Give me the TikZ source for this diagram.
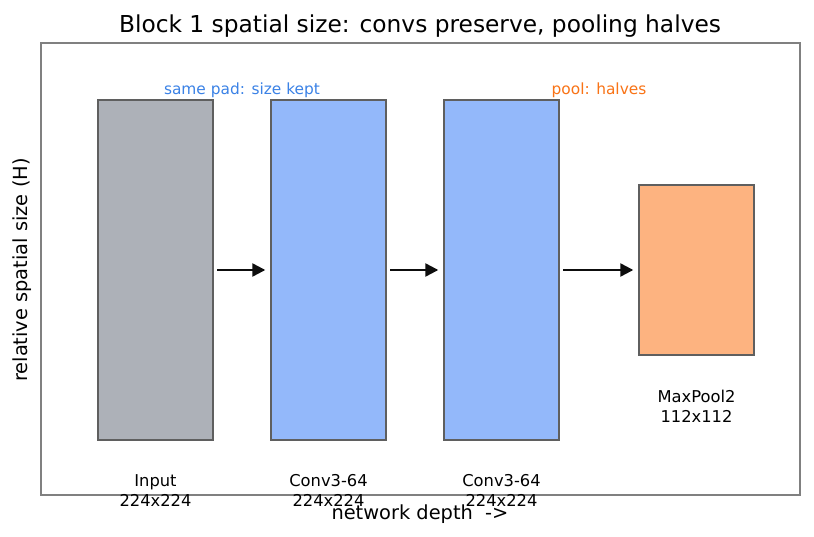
\documentclass[tikz,border=0pt]{standalone}
\usepackage{fontspec}
\setmainfont{DejaVu Sans}
\usetikzlibrary{arrows.meta}
\definecolor{boxedge}{HTML}{5F5F5F}
\definecolor{ingray}{HTML}{ADB1B8}
\definecolor{convblue}{HTML}{93B8FA}
\definecolor{poolorange}{HTML}{FDB380}
\definecolor{annblue}{HTML}{3B82E6}
\definecolor{annorange}{HTML}{F97316}
\definecolor{framegray}{HTML}{808080}
\tikzset{
  layerbox/.style={draw=boxedge, line width=2.4pt, minimum width=115pt, inner sep=0pt},
  flowarrow/.style={-{Triangle[length=13pt,width=13pt]}, line width=2.4pt, black!95, shorten <=3pt, shorten >=4.5pt},
  layerlabel/.style={align=center, font=\fontsize{16.3}{20}\selectfont, inner sep=0pt, text=black},
  annot/.style={font=\fontsize{15.4}{18}\selectfont, inner sep=0pt},
  axislabel/.style={font=\fontsize{19.4}{22}\selectfont, inner sep=0pt, text=black}
}
\begin{document}
\begin{tikzpicture}[x=1pt,y=-1pt]
\useasboundingbox (0,0) rectangle (814,537);
\fill[white] (0,0) rectangle (814,537);
\node[font=\fontsize{23.3}{26}\selectfont, inner sep=0pt, text=black] (title) at (420,26) {Block 1 spatial size: convs preserve, pooling halves};
\draw[framegray, line width=1.4pt] (41,43) rectangle (800,495);
\node[layerbox, fill=ingray, minimum height=340pt] (inp) at (155.5,270) {};
\node[layerbox, fill=convblue, minimum height=340pt] (c1) at (328.5,270) {};
\node[layerbox, fill=convblue, minimum height=340pt] (c2) at (501.5,270) {};
\node[layerbox, fill=poolorange, minimum height=170pt] (mp) at (696.5,270) {};
\draw[flowarrow] (inp.east) -- (c1.west);
\draw[flowarrow] (c1.east) -- (c2.west);
\draw[flowarrow] (c2.east) -- (mp.west);
\node[layerlabel] (linp) at (155.5,490.5) {Input\\224x224};
\node[layerlabel] (lc1) at (328.5,490.5) {Conv3-64\\224x224};
\node[layerlabel] (lc2) at (501.5,490.5) {Conv3-64\\224x224};
\node[layerlabel] (lmp) at (696.5,406) {MaxPool2\\112x112};
\node[annot, text=annblue] (same) at (242,90.5) {same pad: size kept};
\node[annot, text=annorange] (half) at (599,90.5) {pool: halves};
\node[axislabel, rotate=90] (ylab) at (22,270) {relative spatial size (H)};
\node[axislabel] (xlab) at (420,514) {network depth\ \ ->};
\end{tikzpicture}
\end{document}
